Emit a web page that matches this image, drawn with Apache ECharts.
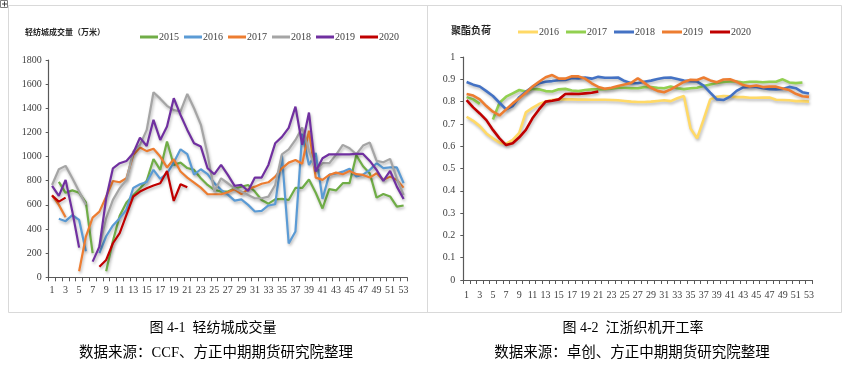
<!DOCTYPE html>
<html><head><meta charset="utf-8">
<script src="https://cdn.jsdelivr.net/npm/echarts@6/dist/echarts.min.js"></script>
<style>html,body{margin:0;padding:0;background:#fff}#c{width:845px;height:366px}</style>
</head><body><div id="c"></div>
<script>
// ---- data ----
const weeks = ['1','2','3','4','5','6','7','8','9','10','11','12','13','14','15','16','17','18','19','20','21','22','23','24','25','26','27','28','29','30','31','32','33','34','35','36','37','38','39','40','41','42','43','44','45','46','47','48','49','50','51','52','53'];

// Left: 轻纺城成交量（万米）
const vol2015 = [null,790,700,720,700,620,200,null,50,300,510,620,680,735,800,980,890,1125,930,950,905,890,820,765,725,710,710,735,750,765,710,640,610,645,650,640,740,740,810,700,570,730,720,780,780,1010,920,860,660,690,670,585,595];
const vol2016 = [null,485,465,515,475,215,null,200,340,430,490,560,740,770,790,890,815,860,950,1060,1020,850,895,855,780,725,685,635,645,600,545,550,595,605,1010,280,380,1190,930,1030,650,850,860,875,900,835,850,890,945,905,910,910,780];
const vol2017 = [680,600,497,null,50,337,494,544,668,798,787,820,1014,1075,1045,1065,1000,910,978,876,826,785,743,688,688,688,705,729,690,729,751,775,787,834,903,950,972,940,1215,826,807,848,867,854,881,854,848,826,862,807,834,807,743];
const vol2018 = [765,895,923,820,710,600,null,254,489,641,738,807,1041,1097,1221,1533,1480,1420,1385,1375,1519,1400,1265,1020,710,820,779,737,710,682,655,655,668,765,1019,1060,1138,1240,1050,889,945,945,1014,1097,1069,1019,1091,1116,964,953,981,820,682];
const vol2019 = [757,674,807,544,246,null,130,254,655,903,945,964,1028,1157,1088,1304,1138,1250,1483,1345,1221,1110,1083,903,854,931,848,757,765,715,826,826,931,1110,1163,1238,1414,1097,1365,876,986,1019,1019,1019,1019,1022,1022,964,890,798,881,751,649];
const vol2020 = [677,627,660,null,null,null,null,88,144,282,365,517,668,710,737,760,779,880,633,771,745];
const volYears = ['2015','2016','2017','2018','2019','2020'];

// Right: 聚酯负荷
const load2016 = [0.732,0.714,0.69,0.657,0.635,0.616,0.61,0.628,0.66,0.752,0.772,0.789,0.80,0.807,0.81,0.81,0.81,0.809,0.809,0.808,0.808,0.808,0.807,0.806,0.803,0.80,0.798,0.798,0.80,0.803,0.806,0.802,0.815,0.825,0.68,0.635,0.72,0.81,0.822,0.825,0.824,0.82,0.82,0.817,0.817,0.818,0.818,0.808,0.807,0.806,0.802,0.802,0.80];
const load2017 = [0.82,0.81,0.79,null,0.72,0.795,0.822,0.837,0.852,0.845,0.857,0.855,0.847,0.845,0.855,0.857,0.85,0.847,0.852,0.855,0.855,0.856,0.858,0.862,0.862,0.86,0.86,0.865,0.865,0.862,0.86,0.868,0.86,0.856,0.86,0.862,0.87,0.877,0.883,0.888,0.89,0.89,0.886,0.889,0.889,0.887,0.889,0.889,0.90,0.886,0.883,0.886,null];
const load2018 = [0.888,0.876,0.868,0.847,0.825,0.795,0.765,0.78,0.82,0.844,0.866,0.882,0.889,0.892,0.896,0.897,0.906,0.904,0.908,0.903,0.911,0.907,0.907,0.908,0.892,0.882,0.882,0.889,0.894,0.901,0.907,0.908,0.901,0.894,0.892,0.89,0.872,0.84,0.81,0.807,0.822,0.848,0.864,0.866,0.866,0.86,0.856,0.855,0.857,0.866,0.86,0.842,0.836];
const load2019 = [0.834,0.827,0.81,0.78,0.755,0.738,0.765,0.792,0.815,0.84,0.867,0.889,0.909,0.919,0.903,0.903,0.914,0.913,0.903,0.882,0.866,0.858,0.862,0.87,0.877,0.884,0.905,0.884,0.862,0.848,0.842,0.855,0.872,0.888,0.898,0.897,0.908,0.895,0.887,0.899,0.90,0.889,0.874,0.868,0.872,0.865,0.868,0.867,0.859,0.852,0.835,0.824,0.821];
const load2020 = [0.807,0.774,0.747,0.717,0.673,0.635,0.605,0.613,0.64,0.673,0.725,0.765,0.80,0.804,0.81,0.834,0.835,0.834,0.837,0.84,0.845];
const loadYears = ['2016','2017','2018','2019','2020'];

// ---- chart ----
const volColors = ['#70AD47','#5B9BD5','#ED7D31','#A5A5A5','#7030A0','#C00000'];
const loadColors = ['#FFD966','#92D050','#4472C4','#ED7D31','#C00000'];
const serifF = 'Liberation Serif';
const cjkF = 'Liberation Serif, Noto Sans CJK SC';
const axisCol = '#595959';
const labCol = '#404040';

function mkSeries(name, data, color, idx, width) {
  return {
    name, type: 'line', data, xAxisIndex: idx, yAxisIndex: idx,
    symbol: 'none', connectNulls: false, animation: false,
    lineStyle: { color, width, shadowColor: 'rgba(0,0,0,0.28)', shadowBlur: 3, shadowOffsetX: 1, shadowOffsetY: 2 },
    itemStyle: { color }
  };
}
const volData = [vol2015, vol2016, vol2017, vol2018, vol2019, vol2020];
const loadData = [load2016, load2017, load2018, load2019, load2020];
const series = [];
volYears.forEach((y, i) => series.push(mkSeries('L' + y, volData[i], volColors[i], 0, 2.2)));
loadYears.forEach((y, i) => series.push(mkSeries('R' + y, loadData[i], loadColors[i], 1, 2.6)));

function xAx(idx, margin) {
  return {
    type: 'category', gridIndex: idx, data: weeks, boundaryGap: true,
    axisLine: { show: true, lineStyle: { color: axisCol, width: 1.2 } },
    axisTick: { show: true, interval: 0, length: 4, lineStyle: { color: axisCol } },
    axisLabel: { interval: 1, margin, fontFamily: serifF, fontSize: 10, color: labCol },
    splitLine: { show: false }
  };
}
function yAx(idx, max, interval, margin) {
  return {
    type: 'value', gridIndex: idx, min: 0, max, interval,
    axisLine: { show: true, lineStyle: { color: axisCol, width: 1.2 } },
    axisTick: { show: true, length: 3, lineStyle: { color: axisCol } },
    axisLabel: { margin, fontFamily: serifF, fontSize: 10, color: labCol, formatter: v => String(Math.round(v * 10) / 10) },
    splitLine: { show: false }
  };
}

const border = '#d9d9d9';
function ln(x1, y1, x2, y2, c) {
  return { type: 'line', shape: { x1, y1, x2, y2 }, style: { stroke: c || border, lineWidth: 1 }, silent: true };
}

const option = {
  backgroundColor: '#fff',
  animation: false,
  grid: [
    { left: 48.7, top: 60, width: 358.3, height: 217.3 },
    { left: 463.3, top: 57, width: 349, height: 223 }
  ],
  xAxis: [xAx(0, 8), xAx(1, 10)],
  yAxis: [yAx(0, 1800, 200, 7), yAx(1, 1, 0.1, 8)],
  legend: [
    { data: volYears.map(y => ({ name: 'L' + y })), left: 135, top: 27, itemWidth: 18, itemHeight: 3, icon: 'rect', itemGap: 5,
      formatter: n => n.slice(1), textStyle: { fontFamily: serifF, fontSize: 10, color: labCol, padding: [0, 0, 0, -4] } },
    { data: loadYears.map(y => ({ name: 'R' + y })), left: 513, top: 22, itemWidth: 20, itemHeight: 3, icon: 'rect', itemGap: 7,
      formatter: n => n.slice(1), textStyle: { fontFamily: serifF, fontSize: 10, color: labCol, padding: [0, 0, 0, -4] } }
  ],
  title: [
    { text: '轻纺城成交量（万米）', left: 25, top: 28, padding: 0, textStyle: { fontFamily: 'Noto Sans CJK SC', fontSize: 8, fontWeight: 'bold', color: '#262626' } },
    { text: '聚酯负荷', left: 451, top: 25, padding: 0, textStyle: { fontFamily: 'Noto Sans CJK SC', fontSize: 10, fontWeight: 'bold', color: '#262626' } },
    { text: '图 4-1  轻纺城成交量', left: 213, top: 321, textAlign: 'center', padding: 0, textStyle: { fontFamily: cjkF, fontSize: 14, fontWeight: 'normal', color: '#000' } },
    { text: '数据来源：CCF、方正中期期货研究院整理', left: 216, top: 346, textAlign: 'center', padding: 0, textStyle: { fontFamily: cjkF, fontSize: 14.5, fontWeight: 'normal', color: '#000' } },
    { text: '图 4-2  江浙织机开工率', left: 633, top: 321, textAlign: 'center', padding: 0, textStyle: { fontFamily: cjkF, fontSize: 14, fontWeight: 'normal', color: '#000' } },
    { text: '数据来源：卓创、方正中期期货研究院整理', left: 632, top: 346, textAlign: 'center', padding: 0, textStyle: { fontFamily: cjkF, fontSize: 14.5, fontWeight: 'normal', color: '#000' } }
  ],
  graphic: [
    ln(8.5, 5.5, 841.5, 5.5),
    ln(8.5, 5.5, 8.5, 312.5),
    ln(427.5, 5.5, 427.5, 312.5),
    ln(841.5, 5.5, 841.5, 312.5),
    ln(8.5, 312.5, 841.5, 312.5),
    { type: 'rect', shape: { x: 0.5, y: 0.5, width: 7, height: 7 }, style: { fill: '#fff', stroke: '#7f7f7f', lineWidth: 1 }, silent: true },
    ln(2, 4, 7, 4, '#404040'),
    ln(4.5, 1.5, 4.5, 6.5, '#404040')
  ],
  series
};
const chart = echarts.init(document.getElementById('c'), null, { renderer: 'canvas' });
chart.setOption(option);
</script>
</body></html>
